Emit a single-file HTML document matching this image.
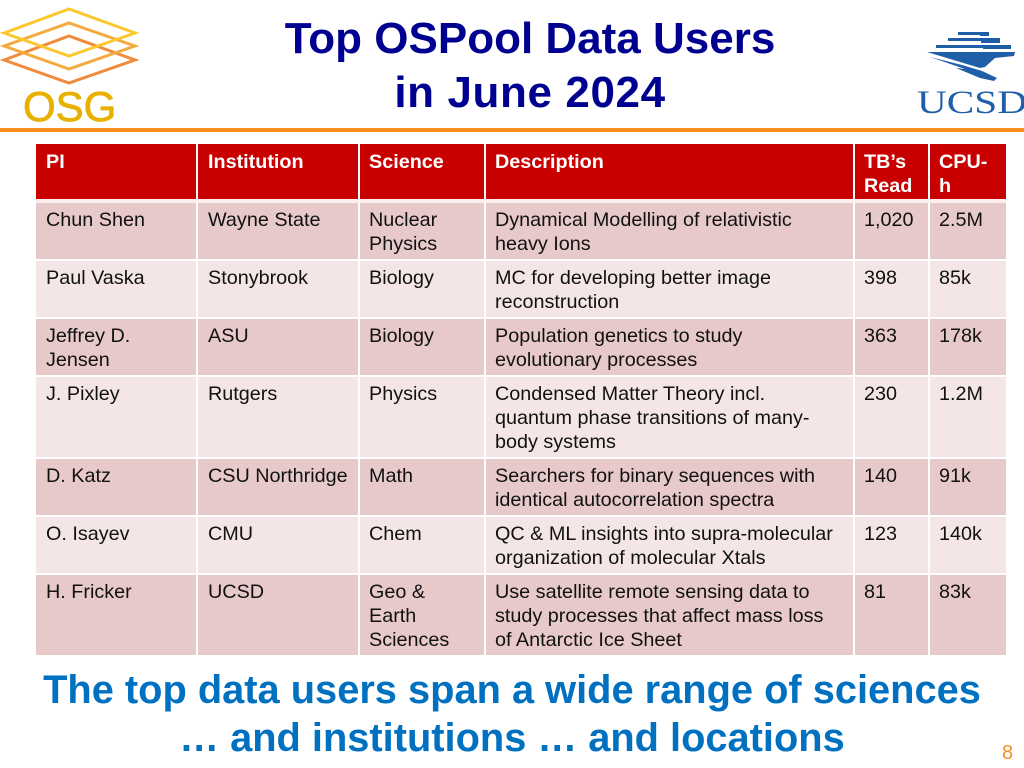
<!DOCTYPE html>
<html lang="en">
<head>
<meta charset="utf-8">
<title>Top OSPool Data Users in June 2024</title>
<style>
html,body{margin:0;padding:0;background:#fff;}
#slide{position:relative;width:1024px;height:768px;overflow:hidden;background:#fff;font-family:"Liberation Sans",sans-serif;}
#title{position:absolute;left:230px;top:12px;width:600px;text-align:center;font-size:44px;line-height:54px;font-weight:bold;color:#000090;}
#title span{letter-spacing:.6px;}
#rule{position:absolute;left:0;top:128px;width:1024px;height:4px;background:#f78e1e;}
table{position:absolute;left:36px;top:144px;width:970px;border-collapse:separate;border-spacing:0;table-layout:fixed;font-size:19.8px;line-height:24px;color:#111;}
td,th{padding:5px 0 0 10px;vertical-align:top;text-align:left;font-weight:normal;box-sizing:border-box;border-right:2px solid #fff;border-bottom:2px solid #fff;overflow:hidden;}
td:nth-child(n+3),th:nth-child(n+3){padding-left:9px;}
td:last-child,th:last-child{border-right:0;}
th{background:#c80000;color:#fff;font-weight:bold;padding-top:6px;border-bottom:4px solid #fbeeee;}
tr.a td{background:#e8c9ca;}
tr.b td{background:#f4e6e7;}
#foot{position:absolute;left:0;top:666px;width:1024px;text-align:center;font-size:39.8px;line-height:48px;font-weight:bold;color:#0070c0;}
#foot div{position:relative;}
#num{position:absolute;left:1002px;top:741px;font-size:20px;line-height:24px;color:#f78e1e;}
svg{position:absolute;}
</style>
</head>
<body>
<div id="slide">
<svg style="left:0;top:0" width="140" height="126" viewBox="0 0 140 126">
<polygon points="4,60 69,36 135,60 69,83" fill="none" stroke="#f08a3c" stroke-width="3"/>
<polygon points="4,46 69,23 135,46 69,69" fill="none" stroke="#f3ab3f" stroke-width="3"/>
<polygon points="4,33 69,9 135,33 69,56" fill="none" stroke="#fbc92f" stroke-width="3"/>
<text x="23" y="121" font-family="Liberation Sans, sans-serif" font-size="42" fill="#e8b100" stroke="#e8b100" stroke-width="0.8">OSG</text>
</svg>
<div id="title">Top OSPool Data Users<br><span>in June 2024</span></div>
<svg style="left:910px;top:25px" width="114" height="92" viewBox="0 0 114 92">
<g fill="#1f5fa8">
<rect x="48" y="7" width="31" height="3"/><rect x="70" y="7" width="9" height="4"/>
<rect x="38" y="13" width="52" height="3"/><rect x="71" y="14" width="19" height="4"/>
<rect x="26" y="20" width="75" height="3"/><rect x="73" y="20" width="28" height="4"/>
<polygon points="17,27 105,27 104,31 85,33 75,42 70,43"/>
<polygon points="20,32 52,40 72,46 87,53 84,56 70,53 46,43 55,44"/>
</g>
<text x="7" y="88" font-family="Liberation Serif, serif" font-size="33" fill="#1f5fa8" textLength="110" lengthAdjust="spacingAndGlyphs">UCSD</text>
</svg>
<div id="rule"></div>
<table>
<colgroup><col style="width:162px"><col style="width:162px"><col style="width:126px"><col style="width:369px"><col style="width:75px"><col style="width:76px"></colgroup>
<tr style="height:59px">
<th>PI</th><th>Institution</th><th>Science</th><th>Description</th><th>TB’s<br>Read</th><th>CPU-<br>h</th>
</tr>
<tr class="a" style="height:58px">
<td>Chun Shen</td><td>Wayne State</td><td>Nuclear<br>Physics</td><td>Dynamical Modelling of relativistic<br>heavy Ions</td><td>1,020</td><td>2.5M</td>
</tr>
<tr class="b" style="height:58px">
<td>Paul Vaska</td><td>Stonybrook</td><td>Biology</td><td>MC for developing better image<br>reconstruction</td><td>398</td><td>85k</td>
</tr>
<tr class="a" style="height:58px">
<td>Jeffrey D.<br>Jensen</td><td>ASU</td><td>Biology</td><td>Population genetics to study<br>evolutionary processes</td><td>363</td><td>178k</td>
</tr>
<tr class="b" style="height:82px">
<td>J. Pixley</td><td>Rutgers</td><td>Physics</td><td>Condensed Matter Theory incl.<br>quantum phase transitions of many-<br>body systems</td><td>230</td><td>1.2M</td>
</tr>
<tr class="a" style="height:58px">
<td>D. Katz</td><td>CSU Northridge</td><td>Math</td><td>Searchers for binary sequences with<br>identical autocorrelation spectra</td><td>140</td><td>91k</td>
</tr>
<tr class="b" style="height:58px">
<td>O. Isayev</td><td>CMU</td><td>Chem</td><td>QC &amp; ML insights into supra-molecular<br>organization of molecular Xtals</td><td>123</td><td>140k</td>
</tr>
<tr class="a" style="height:80px">
<td style="border-bottom:0">H. Fricker</td><td style="border-bottom:0">UCSD</td><td style="border-bottom:0">Geo &amp;<br>Earth<br>Sciences</td><td style="border-bottom:0">Use satellite remote sensing data to<br>study processes that affect mass loss<br>of Antarctic Ice Sheet</td><td style="border-bottom:0">81</td><td style="border-bottom:0">83k</td>
</tr>
</table>
<div id="foot"><div>The top data users span a wide range of sciences</div><div>… and institutions … and locations</div></div>
<div id="num">8</div>
</div>
</body>
</html>
